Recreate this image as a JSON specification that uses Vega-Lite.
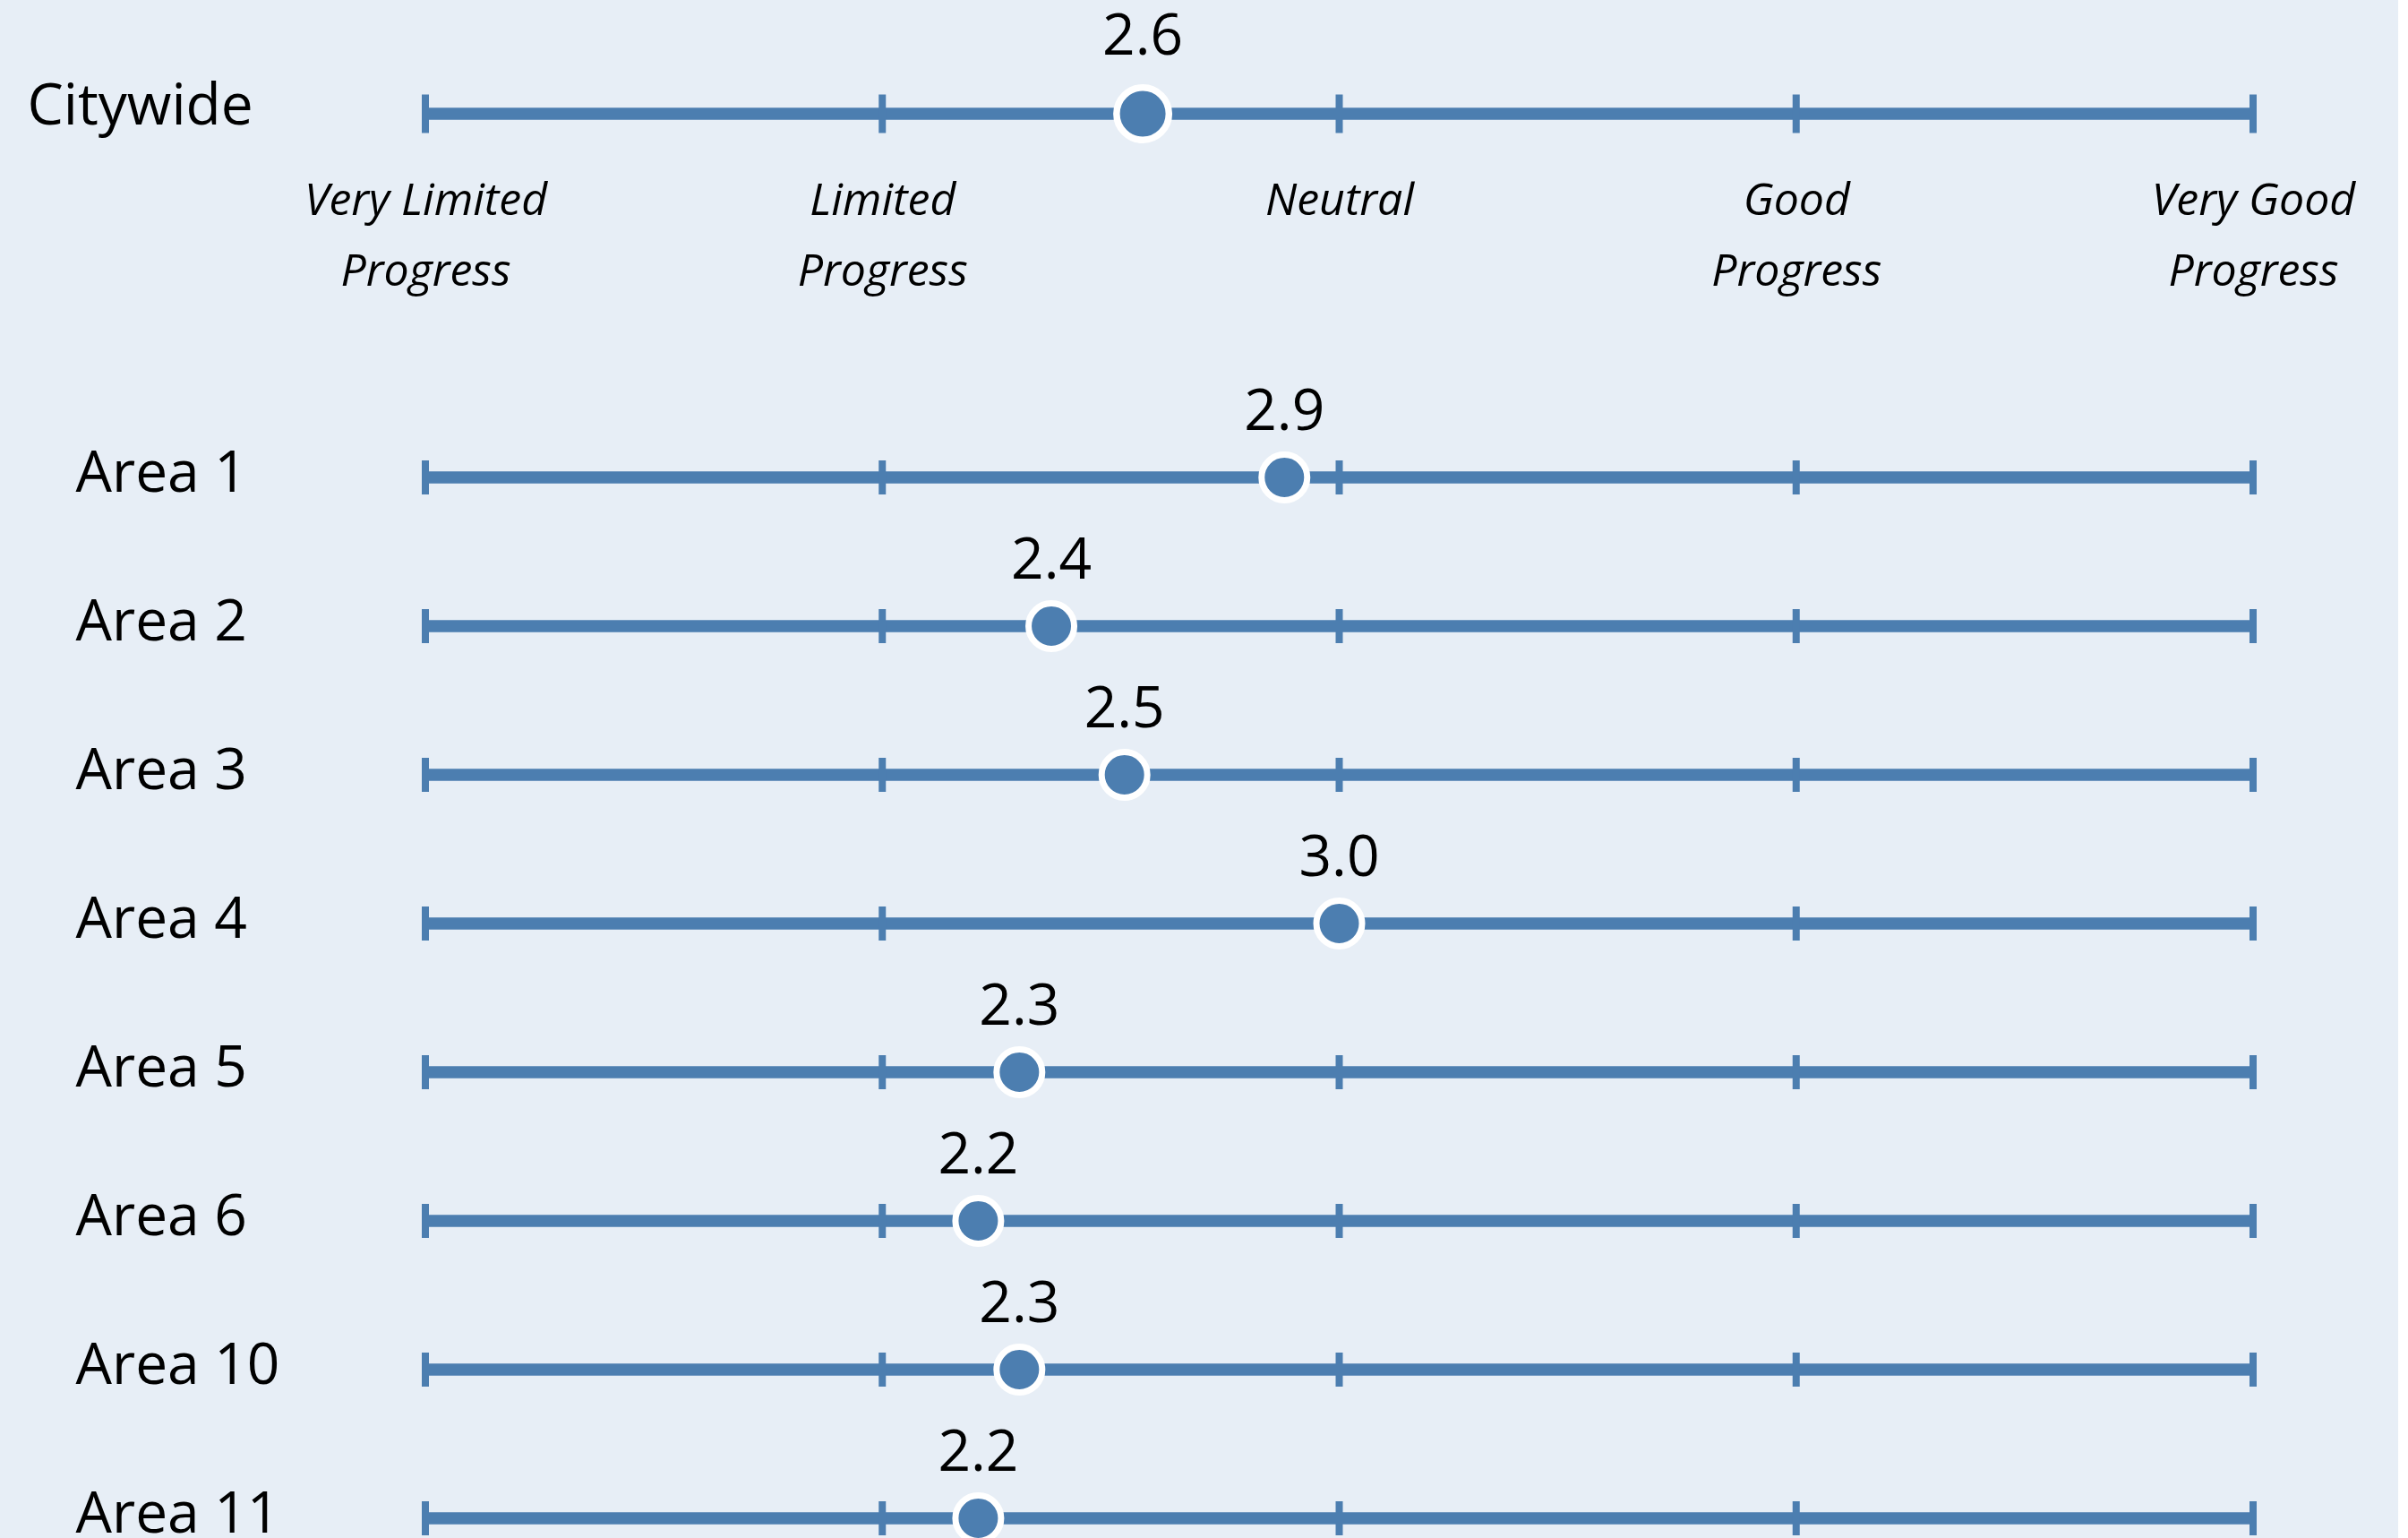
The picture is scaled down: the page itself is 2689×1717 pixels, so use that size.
{
  "$schema": "https://vega.github.io/schema/vega-lite/v6.json",
  "background": "#e7eef6",
  "padding": {"left": 30, "top": 0, "right": 48, "bottom": 0},
  "config": {"view": {"stroke": null}, "font": "Open Sans", "text": {"font": "Open Sans"}},
  "bounds": "flush",
  "spacing": 196,
  "datasets": {
    "scores": [
      {"area": "Citywide", "score": 2.57},
      {"area": "Area 1", "score": 2.88},
      {"area": "Area 2", "score": 2.37},
      {"area": "Area 3", "score": 2.53},
      {"area": "Area 4", "score": 3.0},
      {"area": "Area 5", "score": 2.3},
      {"area": "Area 6", "score": 2.21},
      {"area": "Area 10", "score": 2.3},
      {"area": "Area 11", "score": 2.21}
    ],
    "ticks": [
      {"area": "Citywide", "level": 1}, {"area": "Citywide", "level": 2}, {"area": "Citywide", "level": 3}, {"area": "Citywide", "level": 4}, {"area": "Citywide", "level": 5},
      {"area": "Area 1", "level": 1}, {"area": "Area 1", "level": 2}, {"area": "Area 1", "level": 3}, {"area": "Area 1", "level": 4}, {"area": "Area 1", "level": 5},
      {"area": "Area 2", "level": 1}, {"area": "Area 2", "level": 2}, {"area": "Area 2", "level": 3}, {"area": "Area 2", "level": 4}, {"area": "Area 2", "level": 5},
      {"area": "Area 3", "level": 1}, {"area": "Area 3", "level": 2}, {"area": "Area 3", "level": 3}, {"area": "Area 3", "level": 4}, {"area": "Area 3", "level": 5},
      {"area": "Area 4", "level": 1}, {"area": "Area 4", "level": 2}, {"area": "Area 4", "level": 3}, {"area": "Area 4", "level": 4}, {"area": "Area 4", "level": 5},
      {"area": "Area 5", "level": 1}, {"area": "Area 5", "level": 2}, {"area": "Area 5", "level": 3}, {"area": "Area 5", "level": 4}, {"area": "Area 5", "level": 5},
      {"area": "Area 6", "level": 1}, {"area": "Area 6", "level": 2}, {"area": "Area 6", "level": 3}, {"area": "Area 6", "level": 4}, {"area": "Area 6", "level": 5},
      {"area": "Area 10", "level": 1}, {"area": "Area 10", "level": 2}, {"area": "Area 10", "level": 3}, {"area": "Area 10", "level": 4}, {"area": "Area 10", "level": 5},
      {"area": "Area 11", "level": 1}, {"area": "Area 11", "level": 2}, {"area": "Area 11", "level": 3}, {"area": "Area 11", "level": 4}, {"area": "Area 11", "level": 5}
    ]
  },
  "vconcat": [
    {
      "width": 2041,
      "height": 254,
      "encoding": {
        "y": {
          "field": "area", "type": "nominal",
          "axis": {"title": null, "domain": false, "ticks": false, "tickSize": 0, "labelAlign": "left", "labelPadding": 445, "labelFontSize": 64, "labelFont": "Open Sans", "labelBaseline": "alphabetic", "labelOffset": 12, "labelLimit": 0, "labelColor": "#000000"}
        }
      },
      "layer": [
        {
          "data": {"name": "scores"},
          "transform": [{"filter": "datum.area == 'Citywide'"}],
          "mark": {"type": "rule", "strokeWidth": 13.3, "color": "#4c7eb0"},
          "encoding": {
            "x": {"datum": 1, "type": "quantitative", "scale": {"domain": [1, 5], "nice": false, "zero": false},
              "axis": {"title": null, "values": [1, 2, 3, 4, 5], "domain": false, "ticks": false, "tickSize": 0, "grid": false,
                "labelExpr": "datum.value == 1 ? ['Very Limited', 'Progress'] : datum.value == 2 ? ['Limited', 'Progress'] : datum.value == 3 ? 'Neutral' : datum.value == 4 ? ['Good', 'Progress'] : ['Very Good', 'Progress']",
                "labelFont": "Open Sans", "labelFontSize": 50, "labelFontStyle": "italic", "labelPadding": -15, "labelLineHeight": 79, "labelBaseline": "alphabetic", "labelAlign": "center", "labelOverlap": false, "labelBound": false, "labelFlush": false, "labelLimit": 0, "labelColor": "#000000"}},
            "x2": {"datum": 5}
          }
        },
        {
          "data": {"name": "ticks"},
          "transform": [{"filter": "datum.area == 'Citywide'"}],
          "mark": {"type": "tick", "thickness": 8, "size": 43, "color": "#4c7eb0", "opacity": 1},
          "encoding": {
            "x": {"field": "level", "type": "quantitative", "scale": {"domain": [1, 5], "nice": false, "zero": false}}
          }
        },
        {
          "data": {"name": "scores"},
          "transform": [{"filter": "datum.area == 'Citywide'"}],
          "mark": {"type": "point", "shape": "circle", "filled": true, "size": 3420, "fill": "#4c7eb0", "stroke": "#ffffff", "strokeWidth": 7.5, "opacity": 1},
          "encoding": {
            "x": {"field": "score", "type": "quantitative", "scale": {"domain": [1, 5], "nice": false, "zero": false}}
          }
        },
        {
          "data": {"name": "scores"},
          "transform": [{"filter": "datum.area == 'Citywide'"}],
          "mark": {"type": "text", "dy": -66, "baseline": "alphabetic", "align": "center", "fontSize": 64, "color": "#000000", "font": "Open Sans"},
          "encoding": {
            "x": {"field": "score", "type": "quantitative", "scale": {"domain": [1, 5], "nice": false, "zero": false}},
            "text": {"field": "score", "type": "quantitative", "format": ".1f"}
          }
        }
      ]
    },
    {
      "width": 2041,
      "height": 1328,
      "encoding": {
        "y": {
          "field": "area", "type": "nominal",
          "sort": ["Area 1", "Area 2", "Area 3", "Area 4", "Area 5", "Area 6", "Area 10", "Area 11"],
          "axis": {"title": null, "domain": false, "ticks": false, "tickSize": 0, "labelAlign": "left", "labelPadding": 391, "labelFontSize": 64, "labelFont": "Open Sans", "labelBaseline": "alphabetic", "labelOffset": 16, "labelLimit": 0, "labelColor": "#000000"}
        }
      },
      "layer": [
        {
          "data": {"name": "scores"},
          "transform": [{"filter": "datum.area != 'Citywide'"}],
          "mark": {"type": "rule", "strokeWidth": 13.3, "color": "#4c7eb0"},
          "encoding": {
            "x": {"datum": 1, "type": "quantitative", "scale": {"domain": [1, 5], "nice": false, "zero": false}, "axis": null},
            "x2": {"datum": 5}
          }
        },
        {
          "data": {"name": "ticks"},
          "transform": [{"filter": "datum.area != 'Citywide'"}],
          "mark": {"type": "tick", "thickness": 8, "size": 38, "color": "#4c7eb0", "opacity": 1},
          "encoding": {
            "x": {"field": "level", "type": "quantitative", "scale": {"domain": [1, 5], "nice": false, "zero": false}, "axis": null}
          }
        },
        {
          "data": {"name": "scores"},
          "transform": [{"filter": "datum.area != 'Citywide'"}],
          "mark": {"type": "point", "shape": "circle", "filled": true, "size": 2600, "fill": "#4c7eb0", "stroke": "#ffffff", "strokeWidth": 7, "opacity": 1},
          "encoding": {
            "x": {"field": "score", "type": "quantitative", "scale": {"domain": [1, 5], "nice": false, "zero": false}, "axis": null}
          }
        },
        {
          "data": {"name": "scores"},
          "transform": [{"filter": "datum.area != 'Citywide'"}],
          "mark": {"type": "text", "dy": -53, "baseline": "alphabetic", "align": "center", "fontSize": 64, "color": "#000000", "font": "Open Sans"},
          "encoding": {
            "x": {"field": "score", "type": "quantitative", "scale": {"domain": [1, 5], "nice": false, "zero": false}, "axis": null},
            "text": {"field": "score", "type": "quantitative", "format": ".1f"}
          }
        }
      ]
    }
  ]
}
